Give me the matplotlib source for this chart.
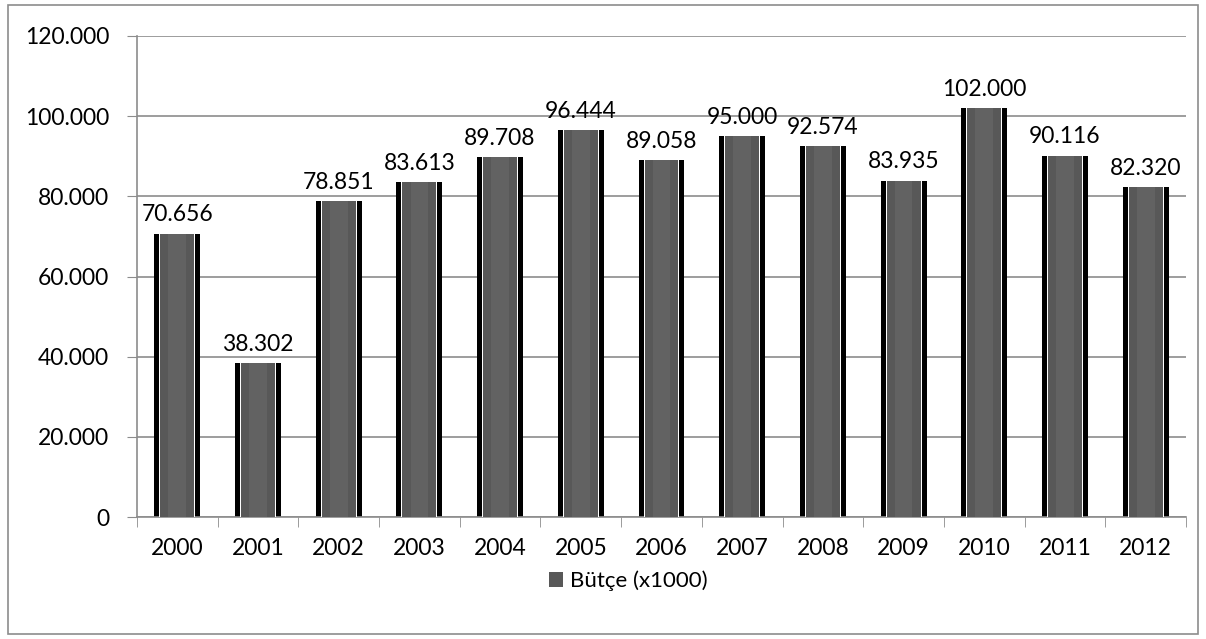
import matplotlib
matplotlib.use("Agg")
import matplotlib.pyplot as plt
from matplotlib.patches import Rectangle
from matplotlib.ticker import FuncFormatter, FixedLocator
import numpy as np

years = ["2000", "2001", "2002", "2003", "2004", "2005", "2006",
         "2007", "2008", "2009", "2010", "2011", "2012"]
budget = [70656, 38302, 78851, 83613, 89708, 96444, 89058,
          95000, 92574, 83935, 102000, 90116, 82320]
series_name = "Bütçe (x1000)"

plt.rcParams['font.family'] = ['Lato', 'DejaVu Sans']

fig = plt.figure(figsize=(12.06, 6.39), dpi=100)
fig.patches.append(Rectangle((8/1206, 5/639), 1190/1206, 629/639,
                             transform=fig.transFigure, fill=False,
                             edgecolor="#8c8c8c", linewidth=1.2))
ax = fig.add_axes([137/1206, 1-517/639, (1186-137)/1206, (517-36)/639])

x = np.arange(len(years))
ax.bar(x, budget, width=0.57, color="black", zorder=2)
ax.bar(x, budget, width=0.445, color="white", zorder=3)
bars = ax.bar(x, budget, width=0.42, color="#585858", zorder=4, label=series_name)
ax.bar(x, budget, width=0.22, color="#626262", zorder=5)

labels = [f"{v:,}".replace(",", ".") for v in budget]
ax.bar_label(bars, labels=labels, padding=6, fontsize=16.5, color="black")

ax.set_ylim(0, 120000)
ax.set_xlim(-0.5, len(years) - 0.5)
ax.set_yticks(np.arange(0, 120001, 20000))
ax.yaxis.set_major_formatter(FuncFormatter(lambda v, p: f"{int(v):,}".replace(",", ".")))
ax.set_xticks(x)
ax.set_xticklabels(years)
ax.xaxis.set_minor_locator(FixedLocator(np.arange(-0.5, len(years), 1.0)))
ax.tick_params(axis="x", which="major", length=0, pad=15, labelsize=16.5)
ax.tick_params(axis="x", which="minor", length=7, color="#8c8c8c", direction="out")
ax.tick_params(axis="y", length=7, color="#8c8c8c", direction="out", pad=13, labelsize=16.5)

ax.grid(axis="y", color="#8c8c8c", linewidth=1.2, zorder=0)
ax.set_axisbelow(True)
for s in ["top", "right"]:
    ax.spines[s].set_visible(False)
ax.spines["left"].set_color("#8c8c8c")
ax.spines["bottom"].set_color("#8c8c8c")
ax.spines["left"].set_linewidth(1.2)
ax.spines["bottom"].set_linewidth(1.2)

fig.legend(handles=[bars], labels=[series_name], loc="center",
           bbox_to_anchor=(628/1206, 1-581/639), frameon=False, fontsize=16,
           handlelength=0.65, handleheight=0.65, handletextpad=0.3)

fig.savefig("out.png", dpi=100)
